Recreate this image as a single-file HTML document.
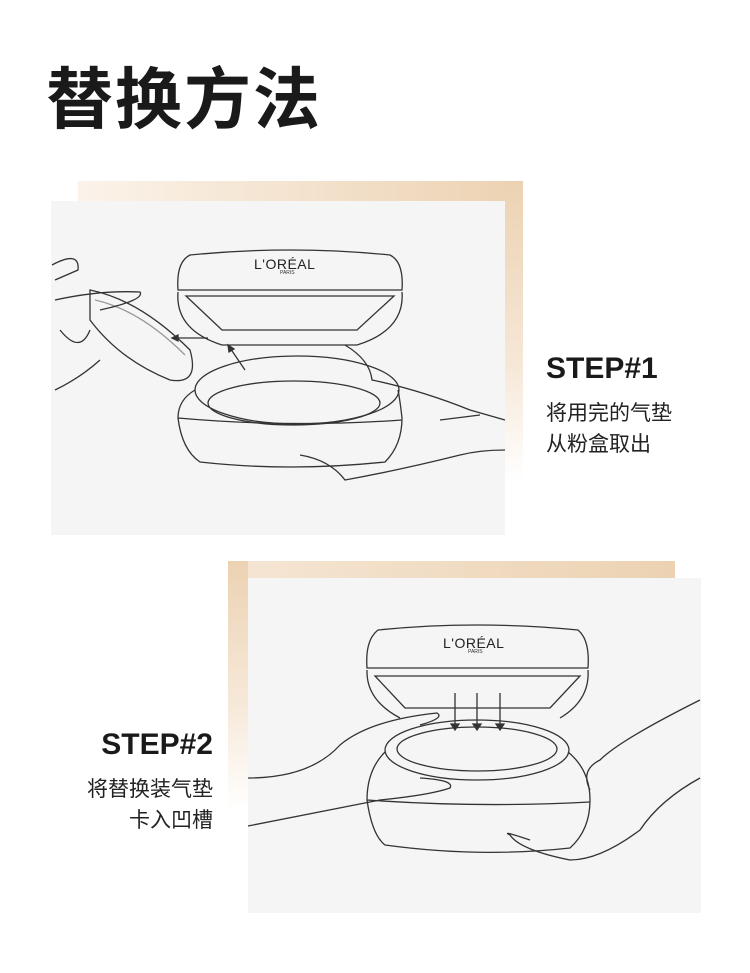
<!DOCTYPE html>
<html><head><meta charset="utf-8"><style>
body{margin:0;width:750px;height:973px;background:#fff;position:relative;overflow:hidden;font-family:"Liberation Sans","Noto Sans CJK SC",sans-serif;}
.a{position:absolute}
h1{position:absolute;left:46px;top:46px;margin:0;font-size:67px;font-weight:bold;color:#1a1a1a;letter-spacing:2px;font-family:"Noto Sans CJK SC",sans-serif;}
.st{font-size:30px;font-weight:bold;color:#1a1a1a;}
.cn{font-size:21px;color:#222;line-height:31px;font-family:"Noto Sans CJK SC",sans-serif;}
</style></head><body>
<h1>替换方法</h1>
<div class="a" style="left:78px;top:181px;width:445px;height:22px;background:linear-gradient(90deg,#fbf3ea,#ecd2b2)"></div>
<div class="a" style="left:505px;top:181px;width:18px;height:300px;background:linear-gradient(180deg,#ecd2b2,#f6e7d6 60%,#fff)"></div>
<div class="a" style="left:51px;top:201px;width:454px;height:334px;background:#f5f5f5"></div>
<div class="a" style="left:228px;top:561px;width:447px;height:18px;background:linear-gradient(90deg,#f5e6d4,#ecd2b2)"></div>
<div class="a" style="left:228px;top:561px;width:20px;height:250px;background:linear-gradient(180deg,#ecd2b2,#f7eadb 60%,#fff)"></div>
<div class="a" style="left:248px;top:578px;width:453px;height:335px;background:#f5f5f5"></div>
<svg class="a" style="left:0;top:0" width="750" height="973" fill="none" stroke="#333" stroke-width="1.3">
<path d="M178 290 Q176 262 190 255 Q290 245 390 255 Q404 262 402 290 Z"/>
<path d="M178 292 Q175 330 222 345 M402 292 Q405 330 357 345"/>
<path d="M186 296 L222 330 L357 330 L394 296 Z"/>
<path d="M222 345 L357 345"/>
<ellipse cx="297" cy="390" rx="102" ry="34"/>
<ellipse cx="294" cy="403" rx="86" ry="22"/>
<path d="M195 390 Q178 400 178 418 Q182 450 200 462 Q290 472 385 462 Q402 445 402 418 Q400 400 398 390"/>
<path d="M178 418 Q290 428 402 420"/>
<path d="M90 290 Q140 300 190 350 Q200 385 170 380 Q120 360 90 320 Z"/>
<path d="M95 300 Q140 310 185 355" stroke="#999"/>
<path d="M52 265 Q80 250 78 270 L55 280 M55 300 Q100 290 140 292 Q145 300 100 310 M60 330 Q80 355 90 330 M55 390 Q80 378 100 360"/>
<path d="M345 345 Q370 360 372 380 Q420 390 470 410 L505 420 M440 420 L480 415 M300 455 Q330 460 345 480 Q400 470 460 455 Q480 450 505 450"/>
<path d="M208 338 L172 338 M245 370 L228 345"/>
<path d="M172 338 l6 -3 v6 z M228 345 l1 7 5 -3 z" fill="#333"/>
<path d="M367 668 Q365 640 378 630 Q477 620 578 630 Q590 640 588 668 Z"/>
<path d="M367 670 Q366 700 400 718 M588 670 Q590 700 560 718"/>
<path d="M375 676 L405 708 L550 708 L580 676 Z"/>
<ellipse cx="477" cy="750" rx="92" ry="30"/>
<ellipse cx="477" cy="749" rx="80" ry="22"/>
<path d="M385 752 Q367 770 367 800 Q372 835 385 845 Q480 858 570 848 Q590 830 590 800 Q590 770 568 752"/>
<path d="M367 800 Q480 808 590 802"/>
<path d="M248 778 Q310 778 340 745 Q370 720 437 713 Q445 718 420 725 M248 826 Q330 810 380 800 Q430 795 450 788 Q455 780 420 778 M700 700 Q620 740 600 760 Q580 770 590 790 M700 778 Q660 800 640 830 Q600 860 570 860 Q520 850 510 835 Q500 830 530 840"/>
<path d="M455 693 V726 M477 693 V726 M500 693 V726"/>
<path d="M451 724 h8 l-4 6 z M473 724 h8 l-4 6 z M496 724 h8 l-4 6 z" fill="#333"/>
</svg>
<div class="a" style="left:254px;top:256px;font-size:14px;color:#222;letter-spacing:0.5px">L'ORÉAL</div>
<div class="a" style="left:280px;top:270px;font-size:5px;color:#333">PARIS</div>
<div class="a" style="left:443px;top:635px;font-size:14px;color:#222;letter-spacing:0.5px">L'ORÉAL</div>
<div class="a" style="left:468px;top:649px;font-size:5px;color:#333">PARIS</div>
<div class="a st" style="left:546px;top:352px">STEP#1</div>
<div class="a cn" style="left:546px;top:397px">将用完的气垫<br>从粉盒取出</div>
<div class="a st" style="right:537px;top:728px">STEP#2</div>
<div class="a cn" style="right:537px;top:773px;text-align:right">将替换装气垫<br>卡入凹槽</div>
</body></html>
